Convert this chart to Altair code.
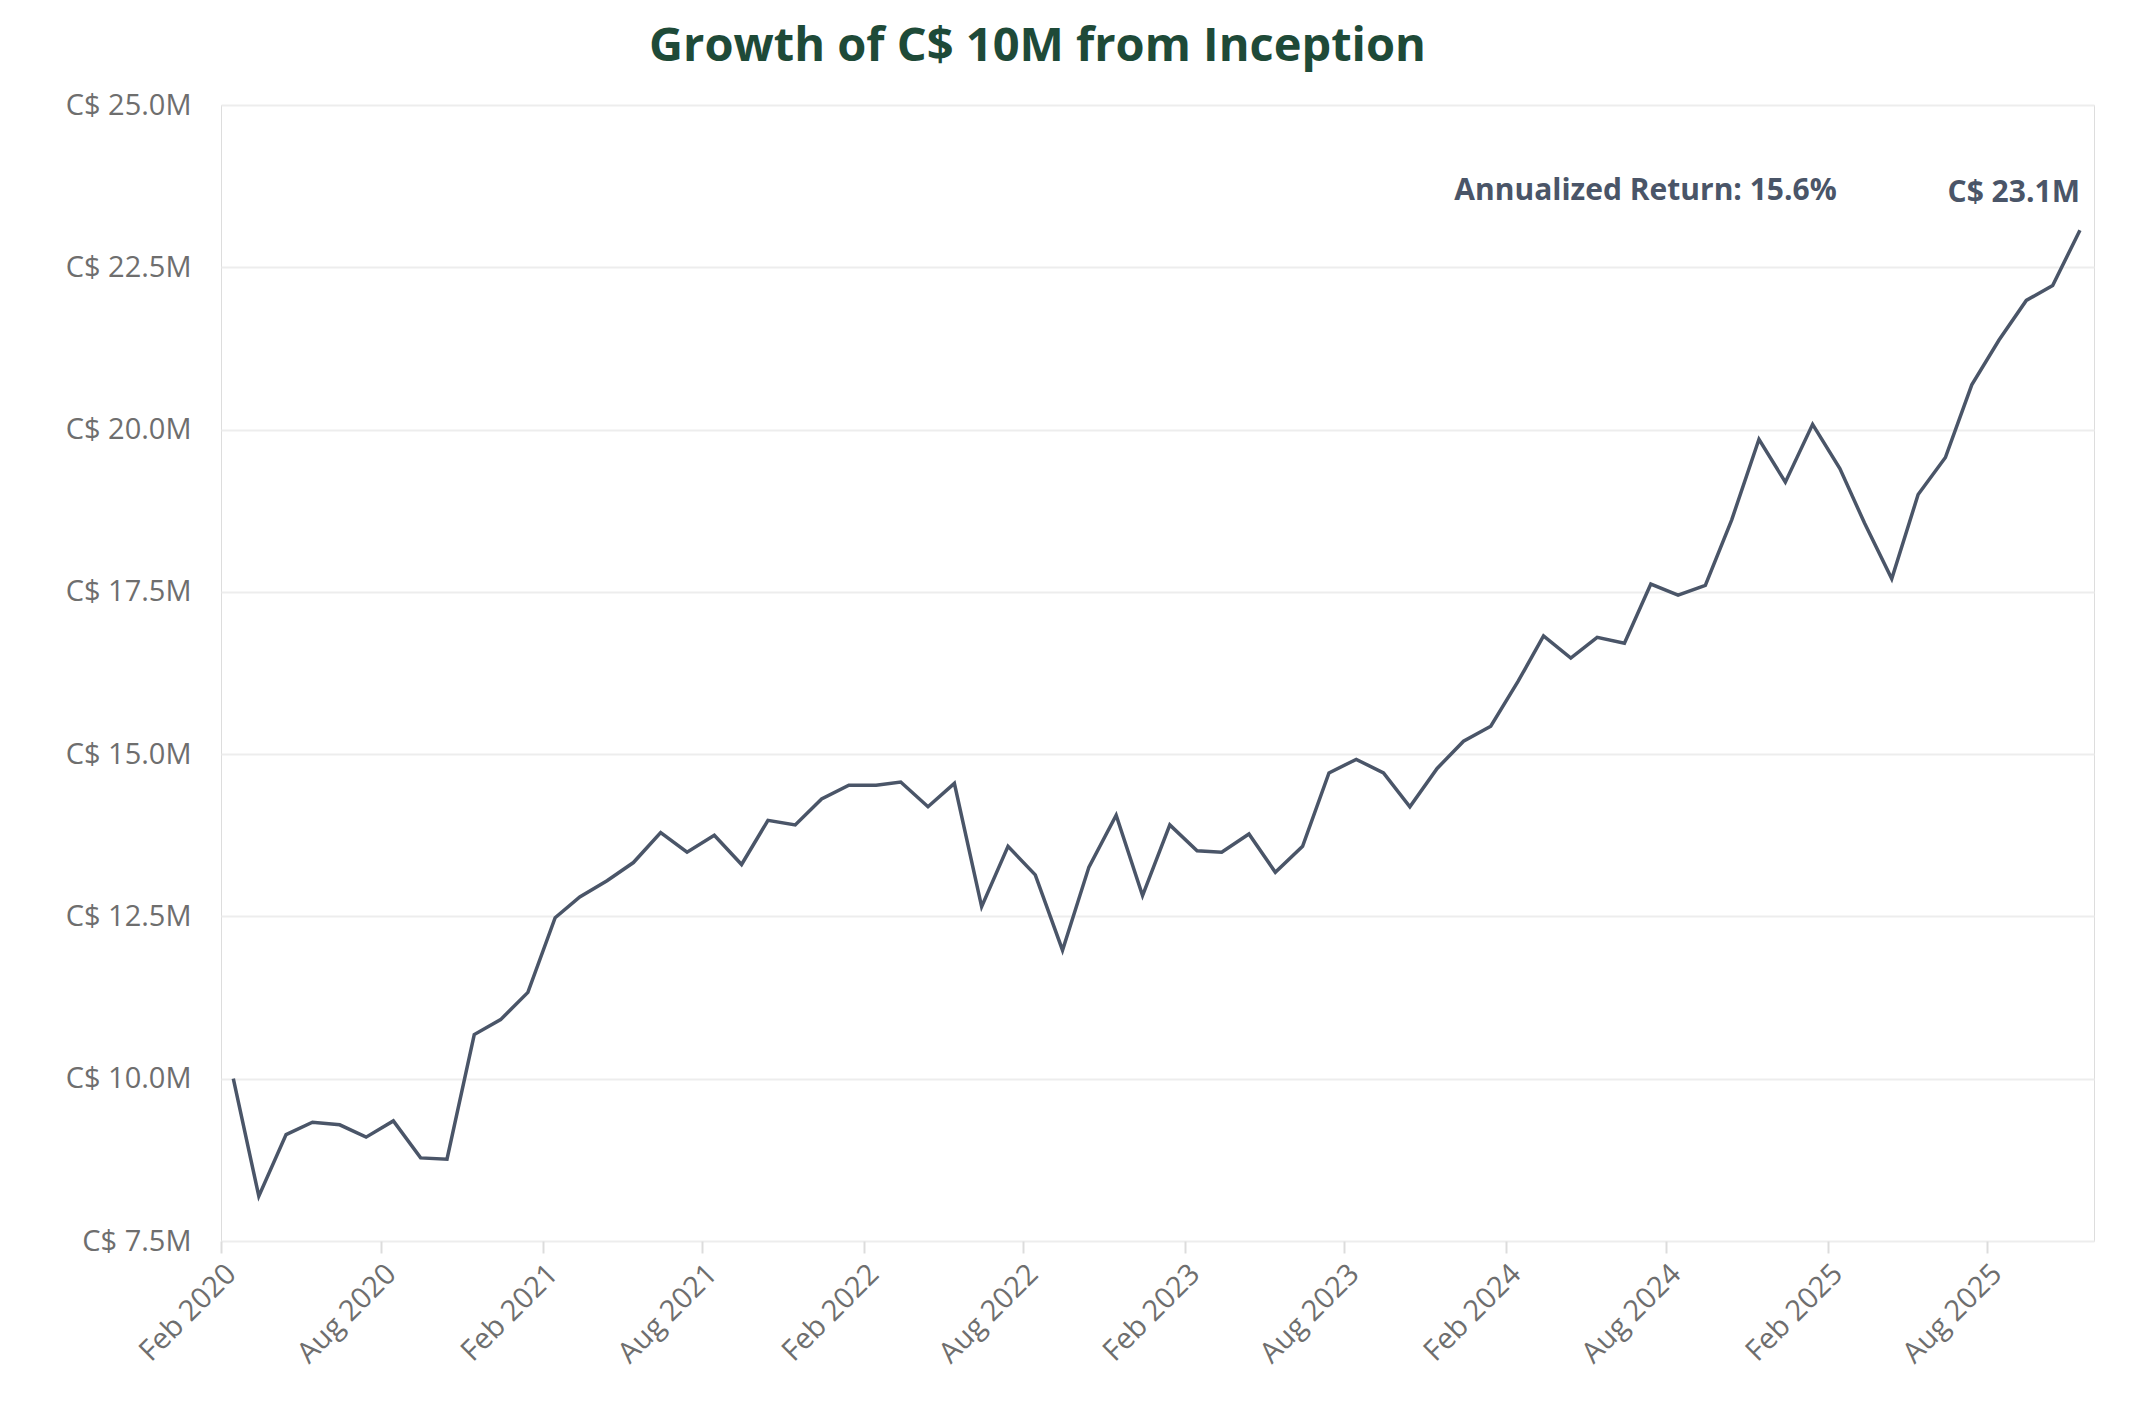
import altair as alt
import pandas as pd

# Monthly portfolio value (C$ millions), Feb 2020 .. Nov 2025 (plotted mid-month)
months = pd.date_range("2020-02-01", periods=70, freq="MS") + pd.Timedelta(days=14)
values = [
    10.00, 8.19, 9.14, 9.33, 9.29, 9.10, 9.35, 8.78, 8.76, 10.68,
    10.91, 11.33, 12.48, 12.80, 13.05, 13.33, 13.79, 13.49, 13.75, 13.30,
    13.98, 13.91, 14.31, 14.52, 14.52, 14.57, 14.19, 14.55, 12.65, 13.58,
    13.14, 11.98, 13.26, 14.06, 12.82, 13.91, 13.51, 13.49, 13.77, 13.18,
    13.58, 14.71, 14.92, 14.71, 14.19, 14.78, 15.20, 15.43, 16.12, 16.82,
    16.48, 16.80, 16.71, 17.62, 17.45, 17.60, 18.61, 19.85, 19.19, 20.08,
    19.40, 18.56, 17.70, 19.00, 19.57, 20.69, 21.38, 21.99, 22.22, 23.07,
]
y_ticks = [7.5, 10.0, 12.5, 15.0, 17.5, 20.0, 22.5, 25.0]
x_ticks = ["2020-02-01", "2020-08-01", "2021-02-01", "2021-08-01", "2022-02-01",
           "2022-08-01", "2023-02-01", "2023-08-01", "2024-02-01", "2024-08-01",
           "2025-02-01", "2025-08-01"]
x_domain = ["2020-02-01", "2025-12-01"]

title_text = "Growth of C$ 10M from Inception"
ann_return_text = ["Annualized Return: 15.6%"]
ann_return_date = ["2024-07-09"]
ann_return_value = [23.67]
end_label_text = ["C$ 23.1M"]

df = pd.DataFrame({"date": months.strftime("%Y-%m-%d"), "value": values})
df_ret = pd.DataFrame({"date": ann_return_date, "value": ann_return_value, "label": ann_return_text})
df_end = pd.DataFrame({"date": [df["date"].iloc[-1]], "value": [values[-1]], "label": end_label_text})

FONT = "Open Sans"
LINE_COLOR = "#4a5568"

x_enc = alt.X(
    "date:T",
    scale=alt.Scale(domain=x_domain),
    axis=alt.Axis(
        values=x_ticks, format="%b %Y", labelAngle=-45, title=None, grid=False,
        domain=False, ticks=True, tickColor="#dcdcdc", tickSize=12, tickWidth=2,
        labelFontSize=29, labelColor="#6e6e6e", labelFont=FONT, labelPadding=6,
    ),
)
y_enc = alt.Y(
    "value:Q",
    scale=alt.Scale(domain=[7.5, 25.0], nice=False, zero=False),
    axis=alt.Axis(
        values=y_ticks, labelExpr="'C$ ' + format(datum.value, '.1f') + 'M'",
        title=None, grid=True, gridColor="#ededed", gridWidth=2, domain=False,
        ticks=False, labelFontSize=29, labelColor="#6e6e6e", labelFont=FONT,
        labelPadding=30,
    ),
)

line = alt.Chart(df).mark_line(color=LINE_COLOR, strokeWidth=3.5).encode(x=x_enc, y=y_enc)

ret = alt.Chart(df_ret).mark_text(
    font=FONT, fontSize=30, fontWeight="bold", color=LINE_COLOR, align="center", baseline="middle"
).encode(x="date:T", y="value:Q", text="label:N")

end = alt.Chart(df_end).mark_text(
    font=FONT, fontSize=30, fontWeight="bold", color=LINE_COLOR, align="right", baseline="middle", dy=-37
).encode(x="date:T", y="value:Q", text="label:N")

chart = alt.layer(line, ret, end).properties(
    width=1873,
    height=1136,
    title=alt.TitleParams(title_text, font=FONT, fontSize=47, fontWeight="bold",
                          color="#1e4a38", anchor="middle", offset=20, dx=-120),
    padding={"left": 57, "top": 15, "right": 15, "bottom": 5},
).configure_view(stroke="#e6e6e6", strokeWidth=2).configure(background="white")

chart.save("out.html", embed_options={"renderer": "svg", "actions": False})
